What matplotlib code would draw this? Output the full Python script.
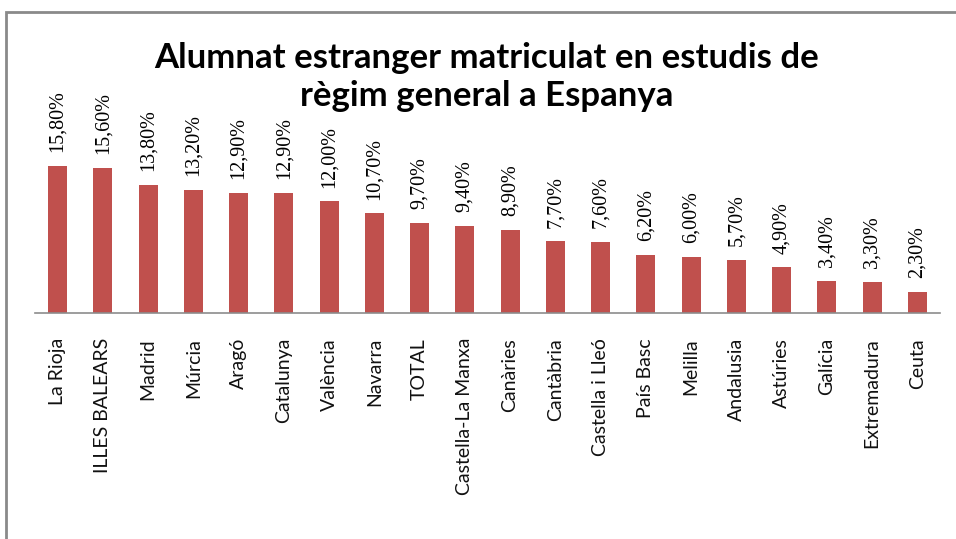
import numpy as np
import matplotlib.pyplot as plt
from matplotlib.patches import Rectangle

regions = ['La Rioja', 'ILLES BALEARS', 'Madrid', 'Múrcia', 'Aragó', 'Catalunya',
           'València', 'Navarra', 'TOTAL', 'Castella-La Manxa', 'Canàries',
           'Cantàbria', 'Castella i Lleó', 'País Basc', 'Melilla', 'Andalusia',
           'Astúries', 'Galícia', 'Extremadura', 'Ceuta']
values = [15.8, 15.6, 13.8, 13.2, 12.9, 12.9, 12.0, 10.7, 9.7, 9.4, 8.9,
          7.7, 7.6, 6.2, 6.0, 5.7, 4.9, 3.4, 3.3, 2.3]

W, H = 956, 539
fig = plt.figure(figsize=(W / 100, H / 100), dpi=100)

# chart frame, clipped by the image on the right and bottom
fig.patches.append(Rectangle((6 / W, -0.05), 1.1, 1 - 12 / H + 0.05,
                             transform=fig.transFigure, fill=False,
                             edgecolor='#8a8a8a', linewidth=2))

ax = fig.add_axes([35 / W, 1 - 313 / H, 905 / W, 186 / H])
x = np.arange(len(regions))
ax.bar(x, values, width=0.42, color='#C0504D')
ax.set_xlim(-0.5, len(regions) - 0.5)
ax.set_ylim(0, 20)

for xi, v in zip(x, values):
    ax.annotate(f'{v:.2f}%'.replace('.', ','), (xi, v), xytext=(0, 10),
                textcoords='offset points', rotation=90, ha='center', va='bottom',
                family='Liberation Serif', fontsize=14.5)

ax.set_xticks(x)
ax.set_xticklabels(regions, rotation=90, family='Lato', fontsize=14, color='#111111')
ax.tick_params(axis='x', length=0, pad=18)
ax.set_yticks([])
for s in ['top', 'right', 'left']:
    ax.spines[s].set_visible(False)
ax.spines['bottom'].set_color('#8c8c8c')
ax.spines['bottom'].set_linewidth(1.2)

fig.text(487 / W, 1 - 77 / H, 'Alumnat estranger matriculat en estudis de\nrègim general a Espanya',
         ha='center', va='center', family='Lato', fontweight='bold', fontsize=25,
         linespacing=1.2)

fig.savefig('out.png', dpi=100)
